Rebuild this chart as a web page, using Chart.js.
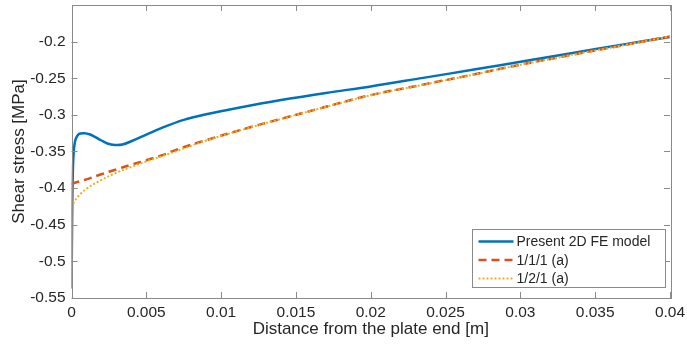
<!DOCTYPE html>
<html>
<head>
<meta charset="utf-8">
<script src="https://cdn.jsdelivr.net/npm/chart.js@4.4.1/dist/chart.umd.min.js"></script>
<style>
    html, body { margin: 0; padding: 0; background: #fff; }
    #wrap { width: 687px; height: 353px; }
</style>
</head>
<body>
<div id="wrap"><canvas id="shearChart" width="687" height="353"></canvas></div>
<script>
// values
const presentX = [0, 0.00003, 0.00006, 0.0001, 0.00015, 0.00022, 0.0003, 0.00045, 0.0006, 0.00086,
    0.0012, 0.0016, 0.002, 0.0024, 0.0029, 0.0034, 0.004, 0.005, 0.006, 0.0075,
    0.009, 0.011, 0.014, 0.017, 0.02, 0.0235, 0.027, 0.0305, 0.0333, 0.037, 0.04];
const presentY = [-0.537, -0.47, -0.41, -0.37, -0.35, -0.338, -0.332, -0.327, -0.3255, -0.325,
    -0.3265, -0.3305, -0.335, -0.339, -0.341, -0.3405, -0.336, -0.327, -0.318, -0.3068,
    -0.2992, -0.2909, -0.2797, -0.2700, -0.2612, -0.2495, -0.2378, -0.2258, -0.2162, -0.2035, -0.1935];

const model111X = [0, 0.001, 0.002, 0.003, 0.004, 0.005, 0.006, 0.0073, 0.009, 0.0115,
    0.0139, 0.017, 0.02, 0.0233, 0.0266, 0.0295, 0.0333, 0.0367, 0.04];
const model111Y = [-0.394, -0.388, -0.381, -0.3745, -0.368, -0.362, -0.3555, -0.3455, -0.3345, -0.3195,
    -0.306, -0.289, -0.273, -0.2595, -0.246, -0.2335, -0.2185, -0.2055, -0.193];

const model121X = [0, 0.0002, 0.0005, 0.001, 0.0018, 0.003, 0.004, 0.005, 0.00625, 0.0075,
    0.009, 0.0115, 0.0139, 0.017, 0.02, 0.0233, 0.0266, 0.0295, 0.0333, 0.0367, 0.04];
const model121Y = [-0.426, -0.418, -0.41, -0.401, -0.391, -0.379, -0.371, -0.3635, -0.355, -0.346,
    -0.335, -0.3198, -0.3062, -0.2892, -0.2732, -0.2597, -0.2462, -0.2337, -0.2187, -0.2056, -0.193];

const seriesLabels = ['Present 2D FE model', '1/1/1 (a)', '1/2/1 (a)'];

const xTicks = [0, 0.005, 0.01, 0.015, 0.02, 0.025, 0.03, 0.035, 0.04];
const xTickLabels = ['0', '0.005', '0.01', '0.015', '0.02', '0.025', '0.03', '0.035', '0.04'];
const yTicks = [-0.55, -0.5, -0.45, -0.4, -0.35, -0.3, -0.25, -0.2];
const yTickLabels = ['-0.55', '-0.5', '-0.45', '-0.4', '-0.35', '-0.3', '-0.25', '-0.2'];

const AXIS_COLOR = '#8a8a8a';
const TEXT_COLOR = '#262626';
const FONT = '"Liberation Sans", Arial, Helvetica, sans-serif';

function toPoints(xs, ys) {
    return xs.map((x, i) => ({ x: x, y: ys[i] }));
}

// matlab style box with inward ticks, and the legend inside the axes
const boxPlugin = {
    id: 'boxPlugin',
    afterDatasetsDraw(chart) {
        const { ctx, chartArea: a, scales } = chart;
        const len = 6;
        ctx.save();
        ctx.strokeStyle = AXIS_COLOR;
        ctx.lineWidth = 1;
        ctx.beginPath();
        xTicks.forEach(v => {
            const px = Math.round(scales.x.getPixelForValue(v)) + 0.5;
            ctx.moveTo(px, a.bottom); ctx.lineTo(px, a.bottom - len);
            ctx.moveTo(px, a.top); ctx.lineTo(px, a.top + len);
        });
        yTicks.forEach(v => {
            const py = Math.round(scales.y.getPixelForValue(v)) + 0.5;
            ctx.moveTo(a.left, py); ctx.lineTo(a.left + len, py);
            ctx.moveTo(a.right, py); ctx.lineTo(a.right - len, py);
        });
        ctx.stroke();
        ctx.strokeRect(Math.round(a.left) + 0.5, Math.round(a.top) + 0.5,
            Math.round(a.right - a.left), Math.round(a.bottom - a.top));

        // legend
        const lx = 472.5, ly = 229.5, lw = 193, lh = 58;
        ctx.fillStyle = '#fff';
        ctx.fillRect(lx, ly, lw, lh);
        ctx.strokeRect(lx, ly, lw, lh);
        ctx.font = '14px ' + FONT;
        ctx.textBaseline = 'middle';
        chart.data.datasets.forEach((ds, i) => {
            const y = ly + 12 + i * 18.5;
            ctx.strokeStyle = ds.borderColor;
            ctx.lineWidth = ds.borderWidth;
            ctx.setLineDash(ds.borderDash || []);
            ctx.beginPath();
            ctx.moveTo(lx + 6, y);
            ctx.lineTo(lx + 41, y);
            ctx.stroke();
            ctx.setLineDash([]);
            ctx.fillStyle = TEXT_COLOR;
            ctx.fillText(ds.label, lx + 44, y + 1);
        });
        ctx.restore();
    }
};

const chart = new Chart(document.getElementById('shearChart'), {
    type: 'line',
    data: {
        datasets: [
            {
                label: seriesLabels[0],
                data: toPoints(presentX, presentY),
                borderColor: '#0072BD',
                borderWidth: 2.5,
                pointRadius: 0,
                tension: 0.35,
                order: 2
            },
            {
                label: seriesLabels[1],
                data: toPoints(model111X, model111Y),
                borderColor: '#D95319',
                borderWidth: 2.5,
                borderDash: [8, 5],
                pointRadius: 0,
                tension: 0.35,
                order: 1
            },
            {
                label: seriesLabels[2],
                data: toPoints(model121X, model121Y),
                borderColor: '#EDB120',
                borderWidth: 2,
                borderDash: [2, 2],
                pointRadius: 0,
                tension: 0.35,
                order: 0
            }
        ]
    },
    options: {
        animation: false,
        responsive: false,
        events: [],
        layout: { padding: { top: 5, right: 17, left: 0, bottom: 0 } },
        scales: {
            x: {
                type: 'linear',
                min: 0,
                max: 0.04,
                afterBuildTicks: s => { s.ticks = xTicks.map(v => ({ value: v })); },
                afterFit: s => { s.height = 55; s.paddingLeft = 0; s.paddingRight = 0; },
                grid: { drawOnChartArea: false, drawTicks: false },
                border: { display: false },
                ticks: {
                    padding: 5,
                    color: TEXT_COLOR,
                    font: { family: FONT, size: 15.5 },
                    maxRotation: 0,
                    callback: (v, i) => xTickLabels[i]
                },
                title: {
                    display: true,
                    text: 'Distance from the plate end [m]',
                    color: TEXT_COLOR,
                    font: { family: FONT, size: 17 },
                    padding: { top: 0, bottom: 13 }
                }
            },
            y: {
                type: 'linear',
                min: -0.55,
                max: -0.15,
                afterBuildTicks: s => { s.ticks = yTicks.map(v => ({ value: v })); },
                afterFit: s => { s.width = 71.5; s.paddingTop = 0; s.paddingBottom = 0; },
                grid: { drawOnChartArea: false, drawTicks: false },
                border: { display: false },
                ticks: {
                    padding: 6,
                    color: TEXT_COLOR,
                    font: { family: FONT, size: 15.5 },
                    callback: (v, i) => yTickLabels[i]
                },
                title: {
                    display: true,
                    text: 'Shear stress [MPa]',
                    color: TEXT_COLOR,
                    font: { family: FONT, size: 17 },
                    padding: { top: 9, bottom: 0 }
                }
            }
        },
        plugins: {
            legend: { display: false },
            tooltip: { enabled: false }
        }
    },
    plugins: [boxPlugin]
});
</script>
</body>
</html>
